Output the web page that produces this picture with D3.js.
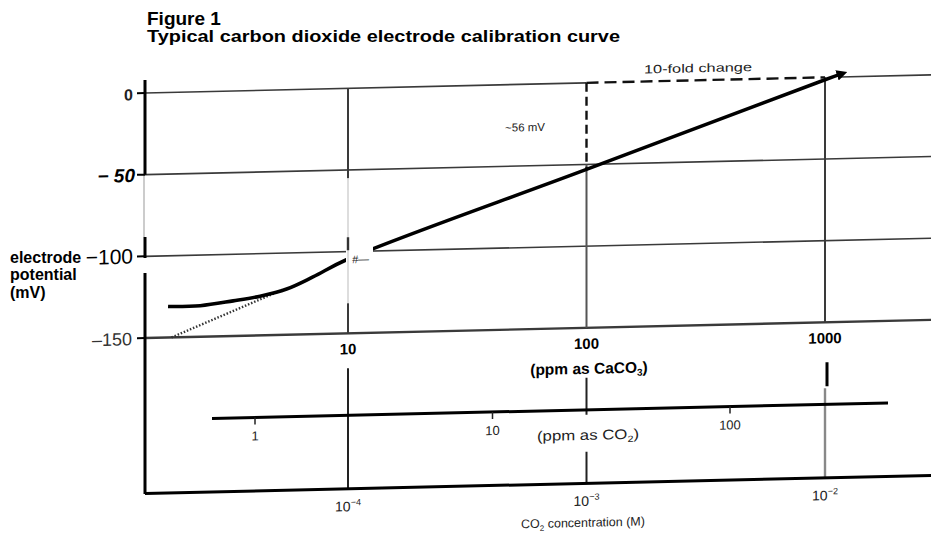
<!DOCTYPE html>
<html>
<head>
<meta charset="utf-8">
<script src="https://cdn.jsdelivr.net/npm/d3@7"></script>
<style>
  body { margin: 0; background: #fff; }
  svg { display: block; }
</style>
</head>
<body>
<div id="chart"></div>
<script>
// electrode response, concentration in ppm as CaCO3 vs potential in mV
const curveConc = [1.76, 2.4, 3.3, 4.28, 5.53, 7.13, 10, 100, 1000, 1180];
const curveMv = [-131, -131, -128.5, -126, -122, -115, -104.5, -53, -1.5, 2];

// dotted extrapolation of the linear part
const dotConc = [1.82, 5.3];
const dotMv = [-150, -122.5];

// axes
const mvTicks = [0, -50, -100, -150];
const mvLabels = ["0", "\u2212 50", "\u2212100", "\u2013150"];
const caco3Ticks = [10, 100, 1000];
const caco3Labels = ["10", "100", "1000"];
const co2Ticks = [1, 10, 100];
const co2Labels = ["1", "10", "100"];
const molarTicks = [1e-4, 1e-3, 1e-2];
const molarExp = ["\u22124", "\u22123", "\u22122"];

const W = 931, H = 539;
const plotW = 786;

const svg = d3.select("#chart").append("svg")
    .attr("width", W)
    .attr("height", H)
    .style("font-family", "'Liberation Sans', Arial, sans-serif");

// titles
svg.append("text")
    .attr("x", 147).attr("y", 25)
    .attr("font-size", 19).attr("font-weight", "bold")
    .text("Figure 1");

svg.append("text")
    .attr("x", 147).attr("y", 42)
    .attr("font-size", 17).attr("font-weight", "bold")
    .attr("textLength", 473).attr("lengthAdjust", "spacingAndGlyphs")
    .text("Typical carbon dioxide electrode calibration curve");

// y axis title
svg.append("g")
    .attr("font-size", 16).attr("font-weight", "bold")
    .selectAll("text")
    .data(["electrode", "potential", "(mV)"])
    .enter().append("text")
    .attr("x", 10)
    .attr("y", (d, i) => [263, 280, 298][i])
    .text(d => d);

// the scanned page is slightly skewed, so the whole plot is too
const g = svg.append("g")
    .attr("transform", "translate(145,93) skewY(-1.32)");

const x = d3.scaleLog().domain([10, 1000]).range([203, 680]);
const xCo2 = d3.scaleLog().domain([1, 100]).range([110, 585]);
const xM = d3.scaleLog().domain([1e-4, 1e-2]).range([203, 680]);
const y = d3.scaleLinear().domain([0, -150]).range([0, 245]);

const grid = "#3a3a3a";

svg.append("defs").append("marker")
    .attr("id", "tip")
    .attr("viewBox", "0 0 10 10")
    .attr("refX", 5).attr("refY", 5)
    .attr("markerWidth", 3).attr("markerHeight", 3)
    .attr("orient", "auto")
    .append("path")
    .attr("d", "M0,0L10,5L0,10z")
    .attr("fill", "#000");

// horizontal gridlines
mvTicks.forEach(v => {
    if (v === 0) {
        g.append("line").attr("x1", 0).attr("x2", x(100))
            .attr("y1", y(v)).attr("y2", y(v))
            .attr("stroke", grid).attr("stroke-width", 1.6);
        g.append("line").attr("x1", x(1000) + 15).attr("x2", plotW)
            .attr("y1", y(v)).attr("y2", y(v))
            .attr("stroke", grid).attr("stroke-width", 1.6);
    } else {
        g.append("line").attr("x1", 0).attr("x2", plotW)
            .attr("y1", y(v)).attr("y2", y(v))
            .attr("stroke", grid)
            .attr("stroke-width", v === -150 ? 2.4 : 1.6);
    }
});

// vertical gridlines
g.append("line").attr("x1", x(10)).attr("x2", x(10))
    .attr("y1", y(0)).attr("y2", y(-150))
    .attr("stroke", grid).attr("stroke-width", 2);
g.append("line").attr("x1", x(100)).attr("x2", x(100))
    .attr("y1", y(-50)).attr("y2", y(-150))
    .attr("stroke", "#555").attr("stroke-width", 2);
g.append("line").attr("x1", x(1000)).attr("x2", x(1000))
    .attr("y1", y(0)).attr("y2", y(-150))
    .attr("stroke", grid).attr("stroke-width", 2);

// 10-fold change annotation
g.append("line").attr("x1", x(100)).attr("x2", x(100))
    .attr("y1", y(0)).attr("y2", y(-53))
    .attr("stroke", "#111").attr("stroke-width", 2.4)
    .attr("stroke-dasharray", "9,5");
g.append("line").attr("x1", x(100)).attr("x2", x(1000))
    .attr("y1", y(0)).attr("y2", y(0))
    .attr("stroke", "#111").attr("stroke-width", 2.4)
    .attr("stroke-dasharray", "12,6");

g.append("text")
    .attr("x", 400).attr("y", 47)
    .attr("text-anchor", "end")
    .attr("font-size", 11.5).attr("fill", "#222")
    .text("~56 mV");
g.append("text")
    .attr("x", 553).attr("y", -8)
    .attr("text-anchor", "middle")
    .attr("font-size", 12).attr("fill", "#222")
    .attr("textLength", 108).attr("lengthAdjust", "spacingAndGlyphs")
    .text("10-fold change");

// dotted line and curve
const line = d3.line()
    .x(d => x(d[0]))
    .y(d => y(d[1]));

g.append("path")
    .datum(dotConc.map((c, i) => [c, dotMv[i]]))
    .attr("d", line)
    .attr("fill", "none")
    .attr("stroke", "#333").attr("stroke-width", 2.4)
    .attr("stroke-dasharray", "1.5,1.8");

g.append("path")
    .datum(curveConc.map((c, i) => [c, curveMv[i]]))
    .attr("d", line.curve(d3.curveCatmullRom))
    .attr("fill", "none")
    .attr("stroke", "#000").attr("stroke-width", 3.6)
    .attr("marker-end", "url(#tip)");

// white patch of the scan next to the 10 line
g.append("rect")
    .attr("x", x(10) - 2).attr("y", 90)
    .attr("width", 27).attr("height", 125)
    .attr("fill", "#fff");
g.append("line").attr("x1", x(10)).attr("x2", x(10))
    .attr("y1", 90).attr("y2", 215)
    .attr("stroke", "#bbb").attr("stroke-width", 1);
g.append("line").attr("x1", x(10)).attr("x2", x(10))
    .attr("y1", 149).attr("y2", 162)
    .attr("stroke", "#333").attr("stroke-width", 2.4);
g.append("text")
    .attr("x", x(10) + 4).attr("y", 175)
    .attr("font-size", 11).attr("font-style", "italic").attr("fill", "#222")
    .text("#\u2014");

// y axis (left frame)
[[-13, y(-50)], [144, 165], [180, 401]].forEach(s => {
    g.append("line").attr("x1", 0).attr("x2", 0)
        .attr("y1", s[0]).attr("y2", s[1])
        .attr("stroke", "#000").attr("stroke-width", 3);
});
g.append("line").attr("x1", -1).attr("x2", -1)
    .attr("y1", y(-50)).attr("y2", 144)
    .attr("stroke", "#999").attr("stroke-width", 1);

g.selectAll(".ytick")
    .data(mvTicks)
    .enter().append("line")
    .attr("x1", -8).attr("x2", 0)
    .attr("y1", d => y(d)).attr("y2", d => y(d))
    .attr("stroke", "#000").attr("stroke-width", 2);

const yFont = [
    {size: 16, style: "normal", weight: "bold", fill: "#222", dx: -12},
    {size: 19, style: "italic", weight: "bold", fill: "#000", dx: -10},
    {size: 21, style: "normal", weight: "normal", fill: "#000", dx: -12},
    {size: 18, style: "normal", weight: "normal", fill: "#333", dx: -13}
];
g.selectAll(".ylab")
    .data(mvTicks)
    .enter().append("text")
    .attr("x", (d, i) => yFont[i].dx)
    .attr("y", d => y(d) + 7)
    .attr("text-anchor", "end")
    .attr("font-size", (d, i) => yFont[i].size)
    .attr("font-style", (d, i) => yFont[i].style)
    .attr("font-weight", (d, i) => yFont[i].weight)
    .attr("fill", (d, i) => yFont[i].fill)
    .text((d, i) => mvLabels[i]);

// ppm as CaCO3 labels
g.selectAll(".xlab")
    .data(caco3Ticks)
    .enter().append("text")
    .attr("x", d => x(d))
    .attr("y", 266)
    .attr("text-anchor", "middle")
    .attr("font-size", 15).attr("font-weight", "bold")
    .text((d, i) => caco3Labels[i]);

const caco3Title = g.append("text")
    .attr("x", 444).attr("y", 291)
    .attr("text-anchor", "middle")
    .attr("font-size", 15.5).attr("font-weight", "bold");
caco3Title.append("tspan").text("(ppm as CaCO");
caco3Title.append("tspan").attr("font-size", 10).attr("dy", 3).text("3");
caco3Title.append("tspan").attr("dy", -3).text(")");

// lines joining the three scales
g.append("line").attr("x1", xM(1e-4)).attr("x2", xM(1e-4))
    .attr("y1", 280).attr("y2", 401)
    .attr("stroke", "#222").attr("stroke-width", 2);
[[295, 332], [369, 401]].forEach(s => {
    g.append("line").attr("x1", xM(1e-3)).attr("x2", xM(1e-3))
        .attr("y1", s[0]).attr("y2", s[1])
        .attr("stroke", "#222").attr("stroke-width", 2);
});
g.append("line").attr("x1", xM(1e-2)).attr("x2", xM(1e-2))
    .attr("y1", 311).attr("y2", 401)
    .attr("stroke", "#888").attr("stroke-width", 2.4);
g.append("line").attr("x1", x(1000) + 2).attr("x2", x(1000) + 2)
    .attr("y1", 285).attr("y2", 309)
    .attr("stroke", "#000").attr("stroke-width", 3);

// ppm as CO2 scale
g.append("line").attr("x1", 67).attr("x2", 743)
    .attr("y1", 327).attr("y2", 327)
    .attr("stroke", "#000").attr("stroke-width", 3);
g.selectAll(".co2tick")
    .data(co2Ticks)
    .enter().append("line")
    .attr("x1", d => xCo2(d)).attr("x2", d => xCo2(d))
    .attr("y1", 327).attr("y2", 334)
    .attr("stroke", "#222").attr("stroke-width", 1.5);
g.selectAll(".co2lab")
    .data(co2Ticks)
    .enter().append("text")
    .attr("x", d => xCo2(d))
    .attr("y", 350)
    .attr("text-anchor", "middle")
    .attr("font-size", 13).attr("fill", "#222")
    .text((d, i) => co2Labels[i]);

const co2Title = g.append("text")
    .attr("x", 443).attr("y", 357)
    .attr("text-anchor", "middle")
    .attr("font-size", 14).attr("fill", "#222")
    .attr("textLength", 102).attr("lengthAdjust", "spacingAndGlyphs");
co2Title.append("tspan").text("(ppm as CO");
co2Title.append("tspan").attr("font-size", 9).attr("dy", 3).text("2");
co2Title.append("tspan").attr("dy", -3).text(")");

// bottom frame and molar scale
g.append("line").attr("x1", 0).attr("x2", plotW)
    .attr("y1", 400.5).attr("y2", 400.5)
    .attr("stroke", "#000").attr("stroke-width", 3);

const mLab = g.selectAll(".mlab")
    .data(molarTicks)
    .enter().append("text")
    .attr("x", d => xM(d))
    .attr("y", 423)
    .attr("text-anchor", "middle")
    .attr("font-size", 14).attr("fill", "#222");
mLab.append("tspan").text("10");
mLab.append("tspan").attr("font-size", 9).attr("dy", -6).text((d, i) => molarExp[i]);

const mTitle = g.append("text")
    .attr("x", 438).attr("y", 444)
    .attr("text-anchor", "middle")
    .attr("font-size", 12.5).attr("fill", "#222");
mTitle.append("tspan").text("CO");
mTitle.append("tspan").attr("font-size", 8).attr("dy", 3).text("2");
mTitle.append("tspan").attr("dy", -3).text(" concentration (M)");
</script>
</body>
</html>
